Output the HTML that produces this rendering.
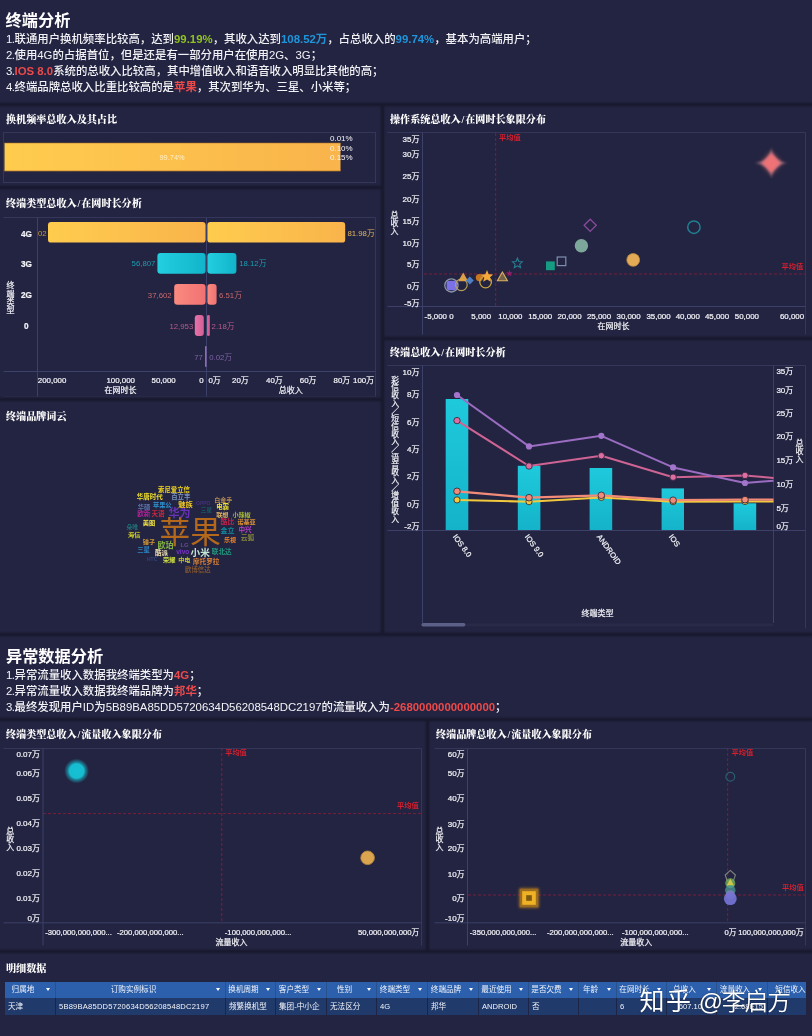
<!DOCTYPE html>
<html lang="zh-CN">
<head>
<meta charset="utf-8">
<title>终端分析</title>
<style>
*{box-sizing:border-box;margin:0;padding:0}
html,body{width:812px;height:1036px;overflow:hidden;background:#232441}
body{font-family:"Liberation Sans","Noto Sans CJK SC",sans-serif;color:#fff;position:relative}
#root{position:absolute;left:0;top:0;width:812px;height:1036px;overflow:hidden;background:#232441;filter:blur(.45px)}
.hb{position:absolute;height:7px;background:linear-gradient(to bottom,rgba(24,25,46,0) 0,rgba(24,25,46,.55) 28%,#18192e 44%,#18192e 56%,rgba(24,25,46,.55) 72%,rgba(24,25,46,0) 100%)}
.vb{position:absolute;width:7px;background:linear-gradient(to right,rgba(24,25,46,0) 0,rgba(24,25,46,.55) 28%,#18192e 44%,#18192e 56%,rgba(24,25,46,.55) 72%,rgba(24,25,46,0) 100%)}
.box{position:absolute;border:1px solid #34365a}
.h1{position:absolute;left:6px;font-size:16.2px;font-weight:700;line-height:20px;white-space:nowrap;color:#fff}
.ln{position:absolute;left:6px;font-size:11.4px;font-weight:500;line-height:16px;height:16px;white-space:nowrap;color:#f2f2f6}
.ttl{position:absolute;font-family:"Liberation Serif","Noto Serif CJK SC",serif;font-weight:900;font-size:10.1px;line-height:14px;white-space:nowrap;color:#fff}
.n{letter-spacing:-.5px}
.sl{padding:0 .9px}
.g,.b,.r{font-weight:700}
.g{color:#8fc31f}.b{color:#1e96dc}.r{color:#ec4a4a}
svg{position:absolute;left:0;top:0;overflow:visible}
svg{fill:#f0f0f5}
.w{fill:#f2f2f7;stroke:#f2f2f7;stroke-width:.22px}
svg text{font-family:"Liberation Sans","Noto Sans CJK SC",sans-serif}
.wm{position:absolute;left:0;top:0;color:#fff;font-weight:400;white-space:nowrap;text-shadow:0 0 1.5px rgba(0,0,0,.6);font-size:1px;line-height:1}
.w1{position:absolute;left:639.4px;top:988.4px;font-size:25px;letter-spacing:1.6px;line-height:26px;font-weight:400}
.w2{position:absolute;left:698.8px;top:988.6px;font-size:23.8px;line-height:26px;font-weight:350;letter-spacing:-1.1px}

.tr{display:flex;height:16px}
.tr>div{flex:none;height:16px;padding-left:3px;overflow:hidden;position:relative;border-right:1px solid #1c2547}
.th{background:#2c60ad;height:15.6px}
.th>div{text-align:center;padding:0 14px 0 0;border-right-color:#28528f;height:15.6px}
.th b{font-weight:400;color:#eef3fb}
.th i{position:absolute;right:5px;top:6px;width:0;height:0;border-left:2.9px solid transparent;border-right:2.9px solid transparent;border-top:3.8px solid #fff}
.td{background:#203a6c;color:#f2f4fa;height:17px;line-height:17px}
.td>div{height:17px}
.wc{position:absolute;white-space:nowrap;line-height:1;font-family:"Liberation Sans","Noto Sans CJK SC",sans-serif}
</style>
</head>
<body>
<div id="root">

<!-- ===== header 1 ===== -->
<div class="h1" style="top:9.6px;left:5.6px">终端分析</div>
<div class="ln" style="top:30.5px"><span class="n">1.</span>联通用户换机频率比较高，达到<span class="g">99.19%</span>，其收入达到<span class="b">108.52万</span>，占总收入的<span class="b">99.74%</span>，基本为高端用户；</div>
<div class="ln" style="top:46.5px"><span class="n">2.</span>使用4G的占据首位，但是还是有一部分用户在使用2G、3G；</div>
<div class="ln" style="top:62.5px"><span class="n">3.</span><span class="r">IOS 8.0</span>系统的总收入比较高，其中增值收入和语音收入明显比其他的高；</div>
<div class="ln" style="top:78.5px"><span class="n">4.</span>终端品牌总收入比重比较高的是<span class="r">苹果</span>，其次到华为、三星、小米等；</div>

<!-- ===== left column panels ===== -->
<!-- ===== right column panels ===== -->

<!-- ===== header 2 ===== -->
<div class="h1" style="top:646.2px">异常数据分析</div>
<div class="ln" style="top:666.5px"><span class="n">1.</span>异常流量收入数据我终端类型为<span class="r">4G</span>；</div>
<div class="ln" style="top:682.5px"><span class="n">2.</span>异常流量收入数据我终端品牌为<span class="r">邦华</span>；</div>
<div class="ln" style="top:698.5px"><span class="n">3.</span>最终发现用户ID为5B89BA85DD5720634D56208548DC2197的流量收入为<span class="r">-2680000000000000</span>；</div>

<!-- ===== bottom panels ===== -->

<!-- ===== separators ===== -->
<div class="vb" style="left:378.6px;top:104px;height:531px"></div>
<div class="vb" style="left:424.2px;top:719.4px;height:232px"></div>
<div class="hb" style="left:0;top:100.6px;width:812px"></div>
<div class="hb" style="left:0;top:183.6px;width:382px"></div>
<div class="hb" style="left:0;top:396.4px;width:382px"></div>
<div class="hb" style="left:382px;top:334.6px;width:430px"></div>
<div class="hb" style="left:0;top:631.2px;width:812px"></div>
<div class="hb" style="left:0;top:716px;width:812px"></div>
<div class="hb" style="left:0;top:947.6px;width:812px"></div>
<!-- ===== panel titles ===== -->
<div class="ttl" style="left:6px;top:113.0px">换机频率总收入及其占比</div>
<div class="ttl" style="left:6px;top:197.0px">终端类型总收入<span class="sl">/</span>在网时长分析</div>
<div class="ttl" style="left:6px;top:410.0px">终端品牌词云</div>
<div class="ttl" style="left:390px;top:113.0px">操作系统总收入<span class="sl">/</span>在网时长象限分布</div>
<div class="ttl" style="left:390px;top:346.0px">终端总收入<span class="sl">/</span>在网时长分析</div>
<div class="ttl" style="left:6px;top:728.0px">终端类型总收入<span class="sl">/</span>流量收入象限分布</div>
<div class="ttl" style="left:436px;top:728.0px">终端品牌总收入<span class="sl">/</span>流量收入象限分布</div>
<div class="ttl" style="left:6px;top:962.0px">明细数据</div>

<!-- CHARTS -->
<svg id="c1" width="812" height="1036" viewBox="0 0 812 1036">
<defs>
<linearGradient id="gy" x1="0" x2="1" y1="0" y2="0"><stop offset="0" stop-color="#ffcc4e"/><stop offset="1" stop-color="#f9b44b"/></linearGradient>
<linearGradient id="gc" x1="0" x2="1" y1="0" y2="0"><stop offset="0" stop-color="#22cfe0"/><stop offset="1" stop-color="#12b4c9"/></linearGradient>
<linearGradient id="gs" x1="0" x2="1" y1="0" y2="0"><stop offset="0" stop-color="#fb8a80"/><stop offset="1" stop-color="#f07272"/></linearGradient>
<linearGradient id="gp" x1="0" x2="1" y1="0" y2="0"><stop offset="0" stop-color="#e573a8"/><stop offset="1" stop-color="#d35f98"/></linearGradient>
</defs>
<rect x="3.5" y="132.5" width="372" height="50" fill="none" stroke="#34365a"/>
<rect x="4.5" y="143" width="336" height="28" fill="url(#gy)"/>
<rect x="4.5" y="170.4" width="336" height="1" fill="#c9852c" opacity=".8"/><rect x="4.5" y="142.6" width="336" height=".8" fill="#a8702c" opacity=".7"/>
<g font-size="8" fill="#f4f4f8">
<text x="330" y="141">0.01%</text>
<text x="330" y="150.8">0.10%</text>
<text x="330" y="159.8">0.15%</text>
</g>
<text x="159.5" y="159.8" font-size="7.4" style="fill:#fff6dc" opacity=".85">99.74%</text>
</svg>
<svg id="c2"width="812" height="1036" viewBox="0 0 812 1036">
<path d="M3.5 217.5H375.5V396.5" fill="none" stroke="#34365a"/><path d="M3.5 396.5H375.5" fill="none" stroke="#34365a" stroke-opacity=".35"/>
<path d="M37.5 217.5V396.5M206.5 217.5V396.5M3.5 371.5H375.5" fill="none" stroke="#3d4068"/>
<rect x="48" y="222" width="157.6" height="20.6" rx="3.2" fill="url(#gy)"/>
<rect x="207.4" y="222" width="137.8" height="20.6" rx="3.2" fill="url(#gy)"/>
<rect x="157.4" y="253" width="48.2" height="20.8" rx="3.2" fill="url(#gc)"/>
<rect x="207.4" y="253" width="29" height="20.8" rx="3.2" fill="url(#gc)"/>
<rect x="174.2" y="284" width="31.4" height="20.8" rx="3.2" fill="url(#gs)"/>
<rect x="207.4" y="284" width="9.2" height="20.8" rx="3" fill="url(#gs)"/>
<rect x="194.8" y="315" width="9" height="21" rx="3" fill="url(#gp)"/>
<rect x="207" y="315" width="2.8" height="21" rx="1.3" fill="#d35f98"/>
<rect x="205" y="346" width="1.6" height="21" rx=".8" fill="#8c6cb4"/>
<g font-size="8.2" font-weight="700" class="w">
<text x="21" y="236.6">4G</text><text x="21" y="266.6">3G</text><text x="21" y="298.4">2G</text><text x="24" y="328.8">0</text>
</g>
<g font-size="7.8">
<text x="38" y="236.4" style="fill:#c79a3e">02</text>
<text x="131.6" y="266.4" style="fill:#1b9db2">56,807</text>
<text x="147.8" y="298" style="fill:#c8686c">37,602</text>
<text x="169.4" y="329" style="fill:#b95a8c">12,953</text>
<text x="194.2" y="359.6" style="fill:#7d62a6">77</text>
<text x="347.4" y="236.4" style="fill:#e3b45e">81.98万</text>
<text x="239.2" y="266.4" style="fill:#1b9db2">18.12万</text>
<text x="219" y="298" style="fill:#c8686c">6.51万</text>
<text x="211.6" y="329" style="fill:#b95a8c">2.18万</text>
<text x="209.2" y="359.6" style="fill:#7d62a6">0.02万</text>
</g>
<g font-size="7.9" class="w">
<text x="37.8" y="383.4">200,000</text><text x="106.4" y="383.4">100,000</text><text x="151.6" y="383.4">50,000</text><text x="199.2" y="383.4">0</text>
<text x="208.4" y="383.4">0万</text><text x="232" y="383.4">20万</text><text x="266" y="383.4">40万</text><text x="299.8" y="383.4">60万</text><text x="333.6" y="383.4">80万</text><text x="353" y="383.4">100万</text>
<text x="104.6" y="392.8" font-size="8">在网时长</text><text x="278.8" y="392.8" font-size="8">总收入</text>
</g>
<g font-size="8" text-anchor="middle" class="w">
<text x="10.4" y="288.4">终</text><text x="10.4" y="296.5">端</text><text x="10.4" y="304.6">类</text><text x="10.4" y="312.7">型</text>
</g>
</svg>
<div id="c3">
<span class="wc" style="left:159.6px;top:517.3px;font-size:30.6px;color:#b4681c;opacity:1;font-weight:400">苹果</span>
<span class="wc" style="left:190.6px;top:547.8px;font-size:9.6px;color:#c4e6d2;opacity:1;font-weight:700">小米</span>
<span class="wc" style="left:168.4px;top:508.1px;font-size:11px;color:#6f34c4;opacity:0.9;font-weight:700">华为</span>
<span class="wc" style="left:158.0px;top:486.8px;font-size:6.4px;color:#efd321;opacity:1;font-weight:700">索尼爱立信</span>
<span class="wc" style="left:136.7px;top:494.1px;font-size:6.5px;color:#f1e12a;opacity:1;font-weight:700">华唐时代</span>
<span class="wc" style="left:171.2px;top:494.0px;font-size:6.4px;color:#8aa7d6;opacity:0.85;font-weight:700">百立丰</span>
<span class="wc" style="left:137.8px;top:503.5px;font-size:6.2px;color:#6d8ac4;opacity:0.8;font-weight:700">华硕</span>
<span class="wc" style="left:153.0px;top:501.7px;font-size:6.2px;color:#2f9fe0;opacity:0.9;font-weight:700">苹果公</span>
<span class="wc" style="left:178.2px;top:501.2px;font-size:7.2px;color:#f2c922;opacity:1;font-weight:700">魅族</span>
<span class="wc" style="left:137.2px;top:511.3px;font-size:6.6px;color:#c222a2;opacity:0.9;font-weight:700">欧新</span>
<span class="wc" style="left:151.4px;top:511.3px;font-size:6.6px;color:#e0263e;opacity:0.9;font-weight:700">天语</span>
<span class="wc" style="left:142.8px;top:519.9px;font-size:6.2px;color:#f2e244;opacity:1;font-weight:700">美图</span>
<span class="wc" style="left:126.4px;top:524.5px;font-size:5.8px;color:#1f8484;opacity:0.8;font-weight:700">朵唯</span>
<span class="wc" style="left:128.0px;top:532.2px;font-size:6.2px;color:#d4d424;opacity:1;font-weight:700">海信</span>
<span class="wc" style="left:142.8px;top:538.9px;font-size:6.2px;color:#e2a233;opacity:0.9;font-weight:700">锤子</span>
<span class="wc" style="left:157.4px;top:541.6px;font-size:8px;color:#8fc244;opacity:0.9;font-weight:700">欧珀</span>
<span class="wc" style="left:180.4px;top:542.2px;font-size:6px;color:#8a5ab4;opacity:0.7;font-weight:700">LG</span>
<span class="wc" style="left:137.2px;top:547.3px;font-size:6.4px;color:#2f90d2;opacity:0.9;font-weight:700">三星</span>
<span class="wc" style="left:155.0px;top:550.2px;font-size:6.4px;color:#f0e0b2;opacity:1;font-weight:700">酷派</span>
<span class="wc" style="left:176.2px;top:549.3px;font-size:6.6px;color:#7f34d2;opacity:0.9;font-weight:700">vivo</span>
<span class="wc" style="left:163.0px;top:557.3px;font-size:6.2px;color:#d2e242;opacity:1;font-weight:700">荣耀</span>
<span class="wc" style="left:178.2px;top:557.3px;font-size:6.2px;color:#c2c434;opacity:1;font-weight:700">中电</span>
<span class="wc" style="left:147.0px;top:557.3px;font-size:5px;color:#3a5a9c;opacity:0.6;font-weight:700">HTC</span>
<span class="wc" style="left:193.0px;top:559.1px;font-size:6.6px;color:#e28434;opacity:0.95;font-weight:700">摩托罗拉</span>
<span class="wc" style="left:185.0px;top:567.4px;font-size:6.4px;color:#a0642a;opacity:0.75;font-weight:700">欧博信达</span>
<span class="wc" style="left:214.2px;top:496.8px;font-size:6px;color:#c29454;opacity:0.9;font-weight:700">白金手</span>
<span class="wc" style="left:216.2px;top:504.2px;font-size:6.4px;color:#f2e234;opacity:1;font-weight:700">电霸</span>
<span class="wc" style="left:216.2px;top:511.7px;font-size:6.2px;color:#e2b464;opacity:1;font-weight:700">联想</span>
<span class="wc" style="left:232.4px;top:511.7px;font-size:6.1px;color:#b2c434;opacity:0.95;font-weight:700">小辣椒</span>
<span class="wc" style="left:200.8px;top:507.6px;font-size:5.6px;color:#126a6a;opacity:0.8;font-weight:700">三星</span>
<span class="wc" style="left:196.0px;top:501.3px;font-size:5px;color:#5a3a9c;opacity:0.6;font-weight:700">OPPO</span>
<span class="wc" style="left:220.6px;top:519.0px;font-size:6.8px;color:#c4244e;opacity:0.95;font-weight:700">酷比</span>
<span class="wc" style="left:237.4px;top:519.4px;font-size:6.1px;color:#e29434;opacity:0.95;font-weight:700">诺基亚</span>
<span class="wc" style="left:220.6px;top:526.7px;font-size:7px;color:#1292a2;opacity:0.95;font-weight:700">金立</span>
<span class="wc" style="left:238.4px;top:526.9px;font-size:6.6px;color:#c444d2;opacity:0.95;font-weight:700">中兴</span>
<span class="wc" style="left:224.0px;top:537.2px;font-size:6px;color:#f28424;opacity:1;font-weight:700">乐视</span>
<span class="wc" style="left:240.8px;top:534.8px;font-size:6.8px;color:#92923a;opacity:0.9;font-weight:700">云狐</span>
<span class="wc" style="left:211.8px;top:549.3px;font-size:6.6px;color:#22a284;opacity:0.95;font-weight:700">联北达</span>
</div>
<svg id="c4" width="812" height="1036" viewBox="0 0 812 1036">
<defs>
<filter id="gl" x="-60%" y="-60%" width="220%" height="220%"><feGaussianBlur stdDeviation="2.2"/></filter>
<filter id="gl1" x="-60%" y="-60%" width="220%" height="220%"><feGaussianBlur stdDeviation="1.2"/></filter>
</defs>
<path d="M387.5 132.5H805.5V334.5" fill="none" stroke="#34365a"/>
<path d="M422.5 132.5V334.5M387.5 306.5H805.5" fill="none" stroke="#3d4068"/>
<path d="M495.7 133V306M424 274H805" fill="none" stroke="#961f38" stroke-opacity=".74" stroke-width="1" stroke-dasharray="3 2"/>
<g font-size="7.2" font-weight="700" style="fill:#d4202e"><text x="499" y="140.4">平均值</text><text x="781.6" y="268.8">平均值</text></g>
<g font-size="8" text-anchor="end" class="w">
<text x="419.4" y="141.8">35万</text><text x="419.4" y="157.2">30万</text><text x="419.4" y="179.2">25万</text><text x="419.4" y="201.5">20万</text><text x="419.4" y="223.6">15万</text><text x="419.4" y="245.5">10万</text><text x="419.4" y="267.3">5万</text><text x="419.4" y="288.6">0万</text><text x="419.4" y="305.8">-5万</text>
</g>
<g font-size="8" text-anchor="middle" class="w">
<text x="394.6" y="217.6">总</text><text x="394.6" y="225.6">收</text><text x="394.6" y="233.6">入</text>
</g>
<g font-size="7.9" text-anchor="middle" class="w">
<text x="435.8" y="318.7">-5,000</text><text x="451.4" y="318.7">0</text><text x="481.2" y="318.7">5,000</text><text x="510.4" y="318.7">10,000</text><text x="540.2" y="318.7">15,000</text><text x="569.5" y="318.7">20,000</text><text x="599" y="318.7">25,000</text><text x="628.6" y="318.7">30,000</text><text x="658.5" y="318.7">35,000</text><text x="687.8" y="318.7">40,000</text><text x="717" y="318.7">45,000</text><text x="746.9" y="318.7">50,000</text><text x="792" y="318.7">60,000</text>
<text x="613.6" y="328.9" font-size="8">在网时长</text>
</g>
<!-- big star -->
<g transform="translate(771.3 163)">
<path d="M0 -15.5Q1.6 -1.6 16.5 0Q1.6 1.6 0 15.5Q-1.6 1.6 -16.5 0Q-1.6 -1.6 0 -15.5Z" fill="#e9a0a4" opacity=".55" filter="url(#gl1)"/>
<path d="M0 -11.5L10.5 0L0 11.5L-10.5 0Z" fill="#f07478" opacity=".6" filter="url(#gl)"/>
<path d="M0 -9L8.6 0L0 9L-8.6 0Z" fill="#ee7276" filter="url(#gl1)"/>
</g>
<path d="M590.2 219.2L596.3 225.3L590.2 231.4L584.1 225.3Z" fill="none" stroke="#8a4a9c" stroke-width="1.3"/>
<circle cx="693.9" cy="227.2" r="6.2" fill="none" stroke="#217f92" stroke-width="1.5"/>
<circle cx="581.4" cy="245.8" r="6.7" fill="#7ea79b"/>
<circle cx="633.2" cy="259.9" r="6.4" fill="#e3ab55" stroke="#b98a3c" stroke-width=".8"/>
<path d="M517.4 258.2L518.8 261.5L522.3 261.8L519.7 264.1L520.5 267.6L517.4 265.8L514.3 267.6L515.1 264.1L512.5 261.8L516.0 261.5Z" fill="none" stroke="#267f94" stroke-width="1.1"/>
<rect x="546" y="261.4" width="8.8" height="8.8" fill="#169c82"/>
<rect x="557.2" y="257" width="8.6" height="8.6" fill="none" stroke="#7e8eae" stroke-width="1.2"/>
<!-- cluster -->
<circle cx="451.4" cy="285.4" r="6.6" fill="none" stroke="#8f95a8" stroke-width="1.3"/>
<rect x="446.6" y="280.8" width="10.4" height="9.4" rx="2.4" fill="#7a72e4"/>
<circle cx="461.4" cy="284.8" r="5.8" fill="none" stroke="#b8a05a" stroke-width="1.2"/>
<path d="M463.2 272.6L468.2 281.2H458.2Z" fill="#e5a748" opacity=".95"/>
<path d="M469.8 276.6L473.8 280.6L469.8 284.6L465.8 280.6Z" fill="#4e7ec4"/>
<circle cx="479.4" cy="277.6" r="3.6" fill="#c9751f"/>
<circle cx="485.6" cy="282" r="5.8" fill="none" stroke="#c9a43c" stroke-width="1.3"/>
<path d="M487 270L488.7 274.2L493.2 274.5L489.7 277.4L490.9 281.8L487 279.4L483.1 281.8L484.3 277.4L480.8 274.5L485.3 274.2Z" fill="#f5a93a"/>
<path d="M502.4 272L507.4 280.8H497.4Z" fill="#c9a050" opacity=".5"/>
<path d="M502.4 272L507.4 280.8H497.4Z" fill="none" stroke="#d9b462" stroke-width="1.1"/>
<path d="M509.4 270.0L510.3 272.2L512.6 272.3L510.8 273.9L511.4 276.2L509.4 274.9L507.4 276.2L508.0 273.9L506.2 272.3L508.5 272.2Z" fill="#a01f74" opacity=".85"/>
</svg>
<svg id="c5" width="812" height="1036" viewBox="0 0 812 1036">
<defs>
<linearGradient id="gb" x1="0" x2="0" y1="0" y2="1"><stop offset="0" stop-color="#1fc9dc"/><stop offset="1" stop-color="#14b3c9"/></linearGradient>
</defs>
<path d="M387.5 365.5H805.5V628.5" fill="none" stroke="#34365a"/>
<path d="M422.5 365.5V623M773.5 365.5V623M387.5 530.5H805.5" fill="none" stroke="#3d4068"/>
<g fill="url(#gb)">
<rect x="445.7" y="399" width="22.6" height="131"/>
<rect x="517.8" y="465.8" width="22.6" height="64.2"/>
<rect x="589.6" y="468" width="22.6" height="62"/>
<rect x="661.6" y="488.4" width="22.4" height="41.6"/>
<rect x="733.6" y="503.3" width="22.6" height="26.7"/>
</g>
<g fill="none" stroke-width="2" stroke-linejoin="round">
<polyline points="457,499.9 529,501.7 601.3,497.4 673.1,501.7 745,501.5 773.5,501.5" stroke="#f2c93c"/>
<polyline points="457,491.3 529,497.7 601.3,495.3 673.1,500.2 745,499.7 773.5,499.7" stroke="#f28c78" stroke-width="2.2"/>
<polyline points="457,420.6 529,466 601.3,455.7 673.1,477.2 745,475.4 773.5,478" stroke="#cf6494"/>
<polyline points="457,395 529,446.4 601.3,435.8 673.1,467.4 745,483 773.5,480.7" stroke="#9a6cc2"/>
</g>
<g stroke="#2a2238" stroke-width=".8">
<g fill="#f2c93c"><circle cx="457" cy="499.9" r="3.1"/><circle cx="529" cy="501.7" r="3.1"/><circle cx="601.3" cy="497.4" r="3.1"/><circle cx="673.1" cy="501.7" r="3.1"/><circle cx="745" cy="501.5" r="3.1"/></g>
<g fill="#f28c78"><circle cx="457" cy="491.3" r="3.3"/><circle cx="529" cy="497.7" r="3.3"/><circle cx="601.3" cy="495.3" r="3.3"/><circle cx="673.1" cy="500.2" r="3.3"/><circle cx="745" cy="499.7" r="3.3"/></g>
<g fill="#de6ea2"><circle cx="457" cy="420.6" r="3.2"/><circle cx="529" cy="466" r="3.2"/><circle cx="601.3" cy="455.7" r="3.2"/><circle cx="673.1" cy="477.2" r="3.2"/><circle cx="745" cy="475.4" r="3.2"/></g>
</g>
<g fill="#a274cc"><circle cx="457" cy="395" r="3.1"/><circle cx="529" cy="446.4" r="3.1"/><circle cx="601.3" cy="435.8" r="3.1"/><circle cx="673.1" cy="467.4" r="3.1"/><circle cx="745" cy="483" r="3.1"/></g>
<g font-size="8" text-anchor="end" class="w">
<text x="419.4" y="375">10万</text><text x="419.4" y="397.4">8万</text><text x="419.4" y="424.6">6万</text><text x="419.4" y="451.5">4万</text><text x="419.4" y="478.8">2万</text><text x="419.4" y="506.7">0万</text><text x="419.4" y="528.5">-2万</text>
</g>
<g font-size="8" class="w">
<text x="776.4" y="374.4">35万</text><text x="776.4" y="392.6">30万</text><text x="776.4" y="415.5">25万</text><text x="776.4" y="439.2">20万</text><text x="776.4" y="462.9">15万</text><text x="776.4" y="486.8">10万</text><text x="776.4" y="510.7">5万</text><text x="776.4" y="528.5">0万</text>
</g>
<g font-size="8" text-anchor="middle" class="w">
<text x="799.6" y="445.6">总</text><text x="799.6" y="453.6">收</text><text x="799.6" y="461.6">入</text>
<text x="597.5" y="616.2">终端类型</text>
</g>
<g font-size="7.8" text-anchor="middle" class="w">
<text x="395.2" y="382.6">彩</text><text x="395.2" y="390.3">信</text><text x="395.2" y="398.0">收</text><text x="395.2" y="405.8">入</text><text x="395.2" y="413.5" transform="rotate(0)">／</text><text x="395.2" y="421.2">短</text><text x="395.2" y="428.9">信</text><text x="395.2" y="436.6">收</text><text x="395.2" y="444.4">入</text><text x="395.2" y="452.1" transform="rotate(0)">／</text><text x="395.2" y="459.8">语</text><text x="395.2" y="467.5">音</text><text x="395.2" y="475.2">收</text><text x="395.2" y="483.0">入</text><text x="395.2" y="490.7" transform="rotate(0)">／</text><text x="395.2" y="498.4">增</text><text x="395.2" y="506.1">值</text><text x="395.2" y="513.8">收</text><text x="395.2" y="521.6">入</text>
</g>
<g font-size="7.6" class="w">
<text transform="translate(452.6 536.8) rotate(54)">IOS 8.0</text>
<text transform="translate(524.6 536.8) rotate(54)">IOS 9.0</text>
<text transform="translate(596.6 536.8) rotate(54)">ANDROID</text>
<text transform="translate(668.6 536.8) rotate(54)">IOS</text>
</g>
<rect x="421" y="623.6" width="352.5" height="2.6" rx="1.3" fill="#282a48"/>
<rect x="421.4" y="623" width="44" height="3.4" rx="1.7" fill="#5c5f86"/>
</svg>
<svg id="c6" width="812" height="1036" viewBox="0 0 812 1036">
<defs>
<radialGradient id="rg1"><stop offset="0" stop-color="#16c0d4"/><stop offset=".58" stop-color="#16bcd0"/><stop offset=".72" stop-color="#16b4c8" stop-opacity=".6"/><stop offset="1" stop-color="#16b4c8" stop-opacity="0"/></radialGradient>
</defs>
<path d="M3.5 748.5H421.5V945.5" fill="none" stroke="#34365a"/>
<path d="M43 748.5V945.5M3.5 922.8H421.5" fill="none" stroke="#3d4068"/>
<path d="M221.8 748V922.5M43 813.6H421" fill="none" stroke="#961f38" stroke-opacity=".74" stroke-dasharray="3 2"/>
<g font-size="7.2" font-weight="700" style="fill:#d4202e"><text x="225.2" y="755.2">平均值</text><text x="397" y="808.4">平均值</text></g>
<g font-size="8" text-anchor="end" class="w">
<text x="40" y="756.7">0.07万</text><text x="40" y="776.1">0.06万</text><text x="40" y="801.4">0.05万</text><text x="40" y="826.1">0.04万</text><text x="40" y="851.4">0.03万</text><text x="40" y="876.2">0.02万</text><text x="40" y="900.9">0.01万</text><text x="40" y="920.9">0万</text>
</g>
<g font-size="8" text-anchor="middle" class="w">
<text x="10.2" y="833.6">总</text><text x="10.2" y="841.6">收</text><text x="10.2" y="849.6">入</text>
<text x="231.4" y="944.6">流量收入</text>
</g>
<g font-size="7.7" class="w">
<text x="45.2" y="934.5">-300,000,000,000...</text><text x="117" y="934.5">-200,000,000,000...</text><text x="224.8" y="934.5">-100,000,000,000...</text><text x="419.2" y="934.5" text-anchor="end">50,000,000,000万</text>
</g>
<circle cx="76.6" cy="771" r="12.4" fill="url(#rg1)"/>
<circle cx="367.6" cy="857.8" r="6.8" fill="#dba44e" stroke="#b58a3e" stroke-width=".9"/>
</svg>
<svg id="c7"width="812" height="1036" viewBox="0 0 812 1036">
<defs>
<filter id="gl7" x="-60%" y="-60%" width="220%" height="220%"><feGaussianBlur stdDeviation="1.6"/></filter>
</defs>
<path d="M434.5 748.5H805.5V945.5" fill="none" stroke="#34365a"/>
<path d="M467.5 748.5V945.5M434.5 922.8H805.5" fill="none" stroke="#3d4068"/>
<path d="M727.7 748V922.5M468 895H805" fill="none" stroke="#961f38" stroke-opacity=".74" stroke-dasharray="3 2"/>
<g font-size="7.2" font-weight="700" style="fill:#d4202e"><text x="731.6" y="755.2">平均值</text><text x="782" y="889.8">平均值</text></g>
<g font-size="8" text-anchor="end" class="w">
<text x="464.6" y="756.7">60万</text><text x="464.6" y="776.1">50万</text><text x="464.6" y="801.4">40万</text><text x="464.6" y="826.6">30万</text><text x="464.6" y="851.4">20万</text><text x="464.6" y="876.7">10万</text><text x="464.6" y="901.4">0万</text><text x="464.6" y="921.4">-10万</text>
</g>
<g font-size="8" text-anchor="middle" class="w">
<text x="439.4" y="833.6">总</text><text x="439.4" y="841.6">收</text><text x="439.4" y="849.6">入</text>
<text x="636.2" y="944.6">流量收入</text>
</g>
<g font-size="7.7" class="w">
<text x="469.8" y="934.5">-350,000,000,000...</text><text x="547" y="934.5">-200,000,000,000...</text><text x="622" y="934.5">-100,000,000,000...</text><text x="724.4" y="934.5">0万</text><text x="803.6" y="934.5" text-anchor="end">100,000,000,000万</text>
</g>
<rect x="519" y="888" width="20" height="20" rx="1.5" fill="#c98a1a" opacity=".6" filter="url(#gl7)"/><rect x="519.6" y="888.6" width="18.8" height="18.8" fill="#b47a18" opacity=".55"/>
<rect x="522.2" y="891.2" width="13.6" height="13.6" fill="#efb224"/>
<rect x="526.2" y="895.2" width="5.6" height="5.6" fill="#7d5810"/>
<circle cx="730.3" cy="776.7" r="4.4" fill="none" stroke="#2b5f70" stroke-width="1.2"/>
<g transform="translate(0 1.8)">
<path d="M730.3 868.6L735.4 873.2L733.4 879.2H727.2L725.2 873.2Z" fill="none" stroke="#7f857f" stroke-width="1.1"/>
<circle cx="730.3" cy="881.4" r="5" fill="#6fae5e" opacity=".8"/>
<path d="M730.3 877L734 883.6H726.6Z" fill="#d8cc48" opacity=".9"/>
<circle cx="730.3" cy="888.4" r="5.2" fill="#4e9a98" opacity=".75"/>
<circle cx="730.3" cy="893" r="4.6" fill="#9a84d6" opacity=".6"/>
<circle cx="730.3" cy="896.8" r="6.4" fill="#7674d6" opacity=".92"/>
</g>
</svg>
<div id="c8" style="position:absolute;left:5px;top:982px;width:801px;height:33px;font-size:7.6px;line-height:16px;overflow:hidden;white-space:nowrap">
<div class="tr th">
<div style="width:51px"><b>归属地</b><i></i></div><div style="width:170px"><b>订购实例标识</b><i></i></div><div style="width:50px"><b>换机周期</b><i></i></div><div style="width:51px"><b>客户类型</b><i></i></div><div style="width:50px"><b>性别</b><i></i></div><div style="width:51px"><b>终端类型</b><i></i></div><div style="width:51px"><b>终端品牌</b><i></i></div><div style="width:50px"><b>最近使用</b><i></i></div><div style="width:50px"><b>是否欠费</b><i></i></div><div style="width:38px"><b>年龄</b><i></i></div><div style="width:50px"><b>在网时长</b><i></i></div><div style="width:50px"><b>总收入</b><i></i></div><div style="width:51px"><b>流量收入</b><i></i></div><div style="width:60px"><b>短信收入</b></div>
</div>
<div class="tr td">
<div style="width:51px">天津</div><div style="width:170px;letter-spacing:.2px">5B89BA85DD5720634D56208548DC2197</div><div style="width:50px">频繁换机型</div><div style="width:51px">集团-中小企</div><div style="width:50px">无法区分</div><div style="width:51px">4G</div><div style="width:51px">邦华</div><div style="width:50px">ANDROID</div><div style="width:50px">否</div><div style="width:38px"></div><div style="width:50px">6</div><div style="width:50px;text-align:right;padding-right:14px">607.10</div><div style="width:51px;text-align:right;padding-right:4px">-2.68E15</div><div style="width:60px"></div>
</div>
</div>

<div class="wm"><span class="w1">知乎</span> <span class="w2">@李启方</span></div>
</div>
</body>
</html>
